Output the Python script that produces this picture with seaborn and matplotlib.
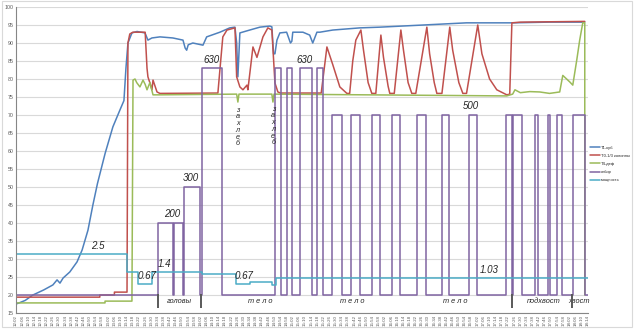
import matplotlib
matplotlib.use("Agg")
import pandas as pd
import seaborn as sns
import matplotlib.pyplot as plt
from matplotlib.lines import Line2D
from matplotlib.patches import Rectangle

# time is in minutes after 12:00
t1_kub = [(2, 17.5), (4, 17.8), (8, 18.5), (13, 20), (20, 21.4), (26, 22.8), (28.7, 24.2),
          (30.6, 23.3), (32.6, 24.7), (37, 26.4), (41.7, 29.2), (45, 32.5), (48.8, 38),
          (52, 45), (55, 51), (60, 59.4), (65, 66.7), (69.6, 71.4), (72.2, 74), (73.5, 83),
          (74.8, 90), (77.4, 92.8), (80.7, 93.2), (85.9, 92.8), (87.8, 90.8), (90.4, 91.4),
          (95.6, 91.7), (104, 91.4), (110.6, 90.8), (112, 88.6), (113, 88), (114, 89.5),
          (117, 90), (123.6, 89.4), (126, 91.7), (134.6, 93), (141, 94.2), (144.4, 94.4),
          (145.5, 90), (146.3, 80.6), (147.6, 92.8), (154, 93.6), (160.6, 94.4), (167, 94.7),
          (168.4, 94.5), (169.5, 87), (170.4, 87), (171.7, 90.8), (173.6, 92.8), (178, 93),
          (180.5, 90), (181.4, 90.5), (182, 93), (188.6, 93), (193, 92.2), (195, 90),
          (197.7, 93), (199.6, 93), (208, 93.6), (225.6, 94.2), (238.6, 94.4), (267, 95),
          (295, 95.6), (325, 95.6), (349, 95.8), (371.9, 95.8)]

t0_kolonna = [(2, 19.4), (56.5, 19.4), (56.5, 20), (66, 20), (66, 20.8), (74.2, 20.8),
              (74.8, 90), (76, 92.5), (78, 93), (86, 93), (87.2, 83), (87.8, 80.6),
              (89.1, 78.9), (90.4, 77), (91.1, 79.7), (93.7, 76.4), (95.6, 76),
              (133.3, 76.1), (134.6, 82.5), (136.5, 91.7), (139.2, 93.6), (144.4, 94.2),
              (145.5, 80.6), (147.6, 77.8), (149.6, 77), (152.2, 78.3), (152.8, 77),
              (156.1, 88.9), (158.7, 86), (162.6, 91.7), (165.8, 94.2), (168.4, 93.6),
              (170.4, 78.9), (172.3, 76.4), (174, 76.1), (200.5, 76.1), (204.2, 88.9),
              (208, 84), (212.6, 77.8), (217.2, 76), (219, 76), (221, 85), (223, 90.8),
              (226.3, 93.6), (228, 88), (231, 79), (233.4, 76), (236, 76), (239.3, 92.2),
              (241, 86), (244, 78), (245.1, 76), (248, 76), (252.3, 93.6), (254, 88),
              (257, 79), (259.4, 76), (262, 76), (269.2, 94.4), (271, 87), (274, 79),
              (275.7, 76), (279, 76), (284.1, 94.4), (286, 88), (290, 79), (292.6, 76),
              (295, 76), (302.3, 95), (305, 87), (310, 80), (314.7, 77), (321.2, 75.6),
              (323.1, 75.8), (324.5, 95.6), (330, 95.8), (371.9, 96)]

t4_def = [(2, 17.8), (59.9, 17.8), (59.9, 18.3), (77.4, 18.3), (78.1, 79.7), (79.4, 80),
          (80.5, 79), (82.6, 77.8), (84.6, 79.7), (86, 78.5), (87.2, 77), (89.1, 79),
          (91.1, 75.6), (95.6, 75.6), (145.5, 75.8), (146.3, 73.6), (147, 75.8),
          (168.4, 75.8), (169.1, 73.6), (169.8, 75.8), (321.2, 75.3), (325, 75.8),
          (326.5, 77), (330, 76.2), (336.1, 76.5), (342.6, 76.4), (349, 76), (355.6, 76.4),
          (357.6, 81), (362.1, 79.2), (364.1, 78.3), (366.7, 85.3), (368.6, 90.8),
          (370.6, 95.6), (371.9, 95.6), (371.9, 20)]

# draw-off rate, ml/h
otbor = [(2, 0), (94.3, 200), (104.1, 0), (104.5, 200), (110.6, 0), (111.2, 300),
         (121.6, 0), (123, 630), (135.9, 0), (170.7, 630), (174.3, 0), (178.2, 630),
         (181.4, 0), (186.6, 630), (194.4, 0), (197.7, 630), (201.6, 0), (207.4, 500),
         (213.9, 0), (219.7, 500), (225.6, 0), (233.4, 500), (238.6, 0), (246.4, 500),
         (251.6, 0), (262.7, 500), (268.5, 0), (278.9, 500), (283.5, 0), (296.5, 500),
         (301.7, 0), (320.5, 500), (324.4, 0), (325.1, 500), (330.9, 0), (339.4, 500),
         (341.3, 0), (347.8, 500), (349.1, 0), (353.7, 500), (356.9, 0), (364.1, 500),
         (371.9, 0), (373.8, 0)]

# heater power, kW
moshchnost = [(2, 2.5), (74.2, 1.4), (81.3, 0.67), (90.7, 1.4), (123, 1.25), (145, 0.67),
              (154.1, 0.8), (168.4, 0.6), (171, 1.03), (373.8, 1.03)]

section_bounds = [94.3, 122.3, 324.4, 363.4]
section_names = ["головы", "т е л о", "т е л о", "т е л о", "подхвост", "хвост"]
section_pos = [108, 160.6, 221, 287.5, 345.5, 368.5]

rate_labels = [(103.4, 200), (115.8, 300), (129.1, 630), (189.9, 630), (298, 500)]
power_labels = [(55.3, 2.5), (98.9, 1.4), (87.5, 0.67), (150.5, 0.67), (309.8, 1.03)]
zahleb_pos = [(146.3, 72.3), (169.3, 72.6)]

legend_names = ["T1-куб", "T0-1/3 колонны", "T4-деф", "отбор", "мощность"]
colors = ["#4F81BD", "#C0504D", "#9BBB59", "#8064A2", "#4BACC6"]


def rate_axis(r):
    return 20 + r / 10


def power_axis(p):
    return 20 + p * 4.6


sns.set_theme(style="white")
plt.rcParams["font.family"] = ["Liberation Sans", "DejaVu Sans"]

fig = plt.figure(figsize=(6.4, 3.31), dpi=100)
ax = fig.add_axes([16 / 640, 18 / 331, 572 / 640, 306 / 331])

series = [
    (t1_kub, colors[0], None, "default"),
    (t0_kolonna, colors[1], None, "default"),
    (t4_def, colors[2], None, "default"),
    (otbor, colors[3], rate_axis, "steps-post"),
    (moshchnost, colors[4], power_axis, "steps-post"),
]
for pts, col, conv, ds in series:
    df = pd.DataFrame(pts, columns=["t", "v"])
    if conv is not None:
        df["v"] = df["v"].map(conv)
    sns.lineplot(data=df, x="t", y="v", color=col, lw=1.1, estimator=None,
                 sort=False, drawstyle=ds, ax=ax)

ax.vlines(section_bounds, 16.3, 20.3, color="#595959", lw=1.4, zorder=5)

for x, name in zip(section_pos, section_names):
    ax.text(x, 18.3, name, ha="center", va="center", fontsize=5.3, style="italic")
for x, r in rate_labels:
    ax.text(x, rate_axis(r) + 1.0, f"{r}", ha="center", va="bottom", fontsize=7,
            style="italic")
for x, p in power_labels:
    ax.text(x, power_axis(p) + 0.8, f"{p:g}", ha="center", va="bottom", fontsize=7,
            style="italic")
for x, y in zahleb_pos:
    ax.text(x, y, "\n".join("захлеб"), ha="center", va="top", fontsize=5.2,
            style="italic", linespacing=0.95)

ax.set_xlim(2, 374)
ax.set_ylim(15, 100)
xt = list(range(2, 375, 4))
ax.set_xticks(xt)
ax.set_xticklabels([f"{12 + m // 60}:{m % 60:02d}" for m in xt], rotation=90,
                   fontsize=3.2, color="#595959")
ax.set_yticks(range(15, 101, 5))
ax.set_yticklabels([str(v) for v in range(15, 101, 5)], fontsize=3.8, color="#595959")
ax.tick_params(axis="both", length=0, pad=1.5)
ax.yaxis.grid(True, color="#D9D9D9", lw=0.8)
ax.xaxis.grid(False)
for s in ["top", "right"]:
    ax.spines[s].set_visible(False)
for s in ["left", "bottom"]:
    ax.spines[s].set_color("#868686")
    ax.spines[s].set_linewidth(0.8)
ax.set_xlabel("")
ax.set_ylabel("")
if ax.get_legend() is not None:
    ax.get_legend().remove()

handles = [Line2D([], [], color=c, lw=1.1) for c in colors]
fig.legend(handles, legend_names, loc="upper left", bbox_to_anchor=(587 / 640, 1 - 143 / 331),
           frameon=False, fontsize=3.0, handlelength=2.4, labelspacing=1.0,
           handletextpad=0.4, borderaxespad=0.2)

fig.patches.append(Rectangle((2 / 640, 4 / 331), 630 / 640, 326 / 331, transform=fig.transFigure,
                             fill=False, edgecolor="#D9D9D9", lw=0.8))

fig.savefig("out.png", dpi=100)
